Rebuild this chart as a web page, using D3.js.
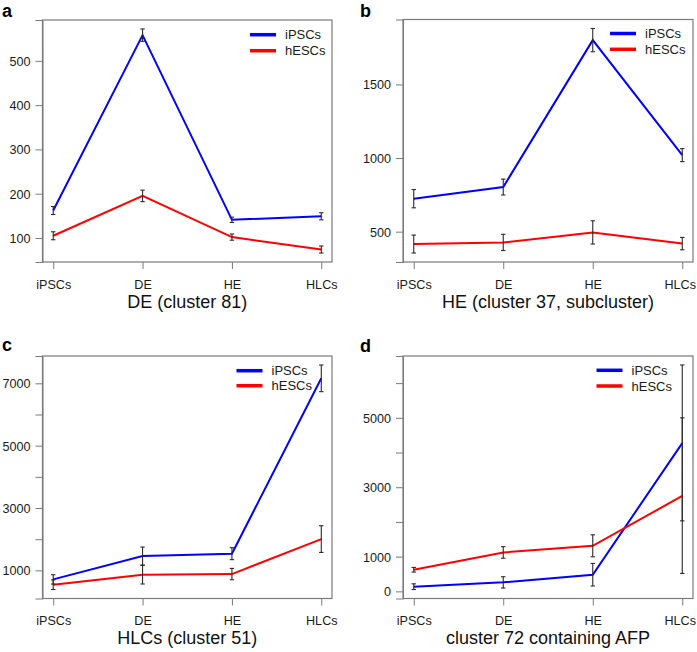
<!DOCTYPE html>
<html><head><meta charset="utf-8">
<script src="https://cdn.jsdelivr.net/npm/d3@7"></script>
<style>body{margin:0;background:#fff}svg{display:block}text{font-family:"Liberation Sans",Arial,sans-serif}</style>
</head><body>
<svg id="chart" width="697" height="652"></svg>
<script>
const categories = ["iPSCs","DE","HE","HLCs"];
const seriesNames = ["iPSCs","hESCs"];
const seriesColors = ["#0000ff","#ff0000"];

// panel a
const a_iPSCs = [162, 558, 141, 149];
const a_iPSCs_bars = [[153,171],[544,572],[135,147],[141,157]];
const a_hESCs = [105, 195, 102, 74];
const a_hESCs_bars = [[96,114],[182,208],[95,109],[66,82]];
const a_ticks = [100,200,300,400,500];
const a_tickLabels = ["100","200","300","400","500"];
// panel b
const b_iPSCs = [724, 803, 1801, 1020];
const b_iPSCs_bars = [[662,786],[749,857],[1722,1880],[976,1064]];
const b_hESCs = [416, 427, 495, 419];
const b_hESCs_bars = [[355,477],[372,482],[416,574],[377,461]];
const b_ticks = [500,1000,1500];
const b_tickLabels = ["500","1000","1500"];
// panel c
const c_iPSCs = [711, 1459, 1536, 7160];
const c_iPSCs_bars = [[561,861],[1170,1748],[1344,1728],[6732,7588]];
const c_hESCs = [541, 862, 881, 2004];
const c_hESCs_bars = [[386,696],[563,1161],[699,1063],[1576,2432]];
const c_ticks = [1000,2000,3000,4000,5000,6000,7000];
const c_tickLabels = ["1000","","3000","","5000","","7000"];
// panel d
const d_iPSCs = [135, 259, 480, 4273];
const d_iPSCs_bars = [[53,217],[96,422],[155,805],[517,6523]];
const d_hESCs = [623, 1121, 1313, 2750];
const d_hESCs_bars = [[556,690],[954,1288],[997,1629],[2032,5000]];
const d_ticks = [0,1000,2000,3000,4000,5000,6000];
const d_tickLabels = ["0","1000","","3000","","5000",""];

const panelLetters = ["a","b","c","d"];
const panelTitles = ["DE (cluster 81)","HE (cluster 37, subcluster)","HLCs (cluster 51)","cluster 72 containing AFP"];

const panels = [
  {letter:panelLetters[0], title:panelTitles[0], vals:[a_iPSCs,a_hESCs], bars:[a_iPSCs_bars,a_hESCs_bars], ticks:a_ticks, labels:a_tickLabels,
   box:{x0:42.5,x1:332,y0:20,y1:262}, legX:285, legY:[34.7,50.7], letterPos:[2,17], lastDx:0},
  {letter:panelLetters[1], title:panelTitles[1], vals:[b_iPSCs,b_hESCs], bars:[b_iPSCs_bars,b_hESCs_bars], ticks:b_ticks, labels:b_tickLabels,
   box:{x0:403,x1:693,y0:19.5,y1:262}, legX:645, legY:[33.5,49.3], letterPos:[360,17], lastDx:-2.5},
  {letter:panelLetters[2], title:panelTitles[2], vals:[c_iPSCs,c_hESCs], bars:[c_iPSCs_bars,c_hESCs_bars], ticks:c_ticks, labels:c_tickLabels,
   box:{x0:42.5,x1:332,y0:356,y1:598.5}, legX:271.5, legY:[370.7,385.7], letterPos:[2,351], lastDx:0},
  {letter:panelLetters[3], title:panelTitles[3], vals:[d_iPSCs,d_hESCs], bars:[d_iPSCs_bars,d_hESCs_bars], ticks:d_ticks, labels:d_tickLabels,
   box:{x0:403,x1:693,y0:356,y1:598.5}, legX:631.5, legY:[370.3,386], letterPos:[360,352], lastDx:-2.5}
];

const svg = d3.select("#chart");
const axisGray = "#7a7a7a";

panels.forEach(p => {
  const g = svg.append("g");
  const b = p.box;
  const allB = p.bars.flat().flat();
  const mn = d3.min(allB), mx = d3.max(allB), pad = (mx - mn) * 0.04;
  const y = d3.scaleLinear().domain([mn - pad, mx + pad]).range([b.y1, b.y0]);
  const x = d3.scaleLinear().domain([0.88, 4.12]).range([b.x0, b.x1]);

  // y axis
  const ya = d3.axisLeft(y).tickValues(p.ticks).tickSize(7).tickPadding(5)
    .tickFormat((d,i) => p.labels[i]);
  const yg = g.append("g").attr("transform", `translate(${b.x0},0)`).call(ya);
  yg.select(".domain").attr("stroke", axisGray);
  yg.selectAll(".tick line").attr("stroke", axisGray);
  yg.selectAll(".tick text").attr("fill","#1a1a1a").style("font-size","12.6px").attr("dy","0.36em");

  // x axis
  const xa = d3.axisBottom(x).tickValues([1,2,3,4]).tickSize(7).tickPadding(11)
    .tickFormat((d) => categories[d-1]);
  const xg = g.append("g").attr("transform", `translate(0,${b.y1})`).call(xa);
  xg.select(".domain").remove();
  xg.selectAll(".tick line").attr("stroke", axisGray);
  xg.selectAll(".tick text").attr("fill","#1a1a1a").style("font-size","12.6px")
    .attr("dx", (d) => d === 4 ? p.lastDx : 0);

  // box
  g.append("rect").attr("x", b.x0).attr("y", b.y0).attr("width", b.x1-b.x0).attr("height", b.y1-b.y0)
    .attr("fill","none").attr("stroke", axisGray).attr("stroke-width",1.2);

  // lines
  const line = d3.line().x((d,i) => x(i+1)).y(d => y(d));
  p.vals.forEach((v, si) => {
    g.append("path").datum(v).attr("d", line).attr("fill","none")
      .attr("stroke", seriesColors[si]).attr("stroke-width", 2);
  });

  // error bars
  p.bars.forEach((bs) => {
    bs.forEach((bb, i) => {
      const cx = x(i+1);
      g.append("line").attr("x1",cx).attr("x2",cx).attr("y1",y(bb[0])).attr("y2",y(bb[1]))
        .attr("stroke","#2a2a2a").attr("stroke-width",1.1);
      [bb[0], bb[1]].forEach(v => {
        g.append("line").attr("x1",cx-2.2).attr("x2",cx+2.2).attr("y1",y(v)).attr("y2",y(v))
          .attr("stroke","#2a2a2a").attr("stroke-width",1.1);
      });
    });
  });

  // legend
  seriesNames.forEach((n, si) => {
    g.append("line").attr("x1", p.legX-35).attr("x2", p.legX-9)
      .attr("y1", p.legY[si]).attr("y2", p.legY[si])
      .attr("stroke", seriesColors[si]).attr("stroke-width", 3.5);
    g.append("text").attr("x", p.legX).attr("y", p.legY[si]).attr("dy","0.36em")
      .style("font-size","13px").attr("fill","#1a1a1a").text(n);
  });

  // title
  g.append("text").attr("x", (b.x0+b.x1)/2).attr("y", b.y1 + 45.5).attr("text-anchor","middle")
    .style("font-size","18px").attr("fill","#111").text(p.title);

  // panel letter
  g.append("text").attr("x", p.letterPos[0]).attr("y", p.letterPos[1])
    .style("font-size","18px").style("font-weight","bold").attr("fill","#000").text(p.letter);
});
</script>
</body></html>
